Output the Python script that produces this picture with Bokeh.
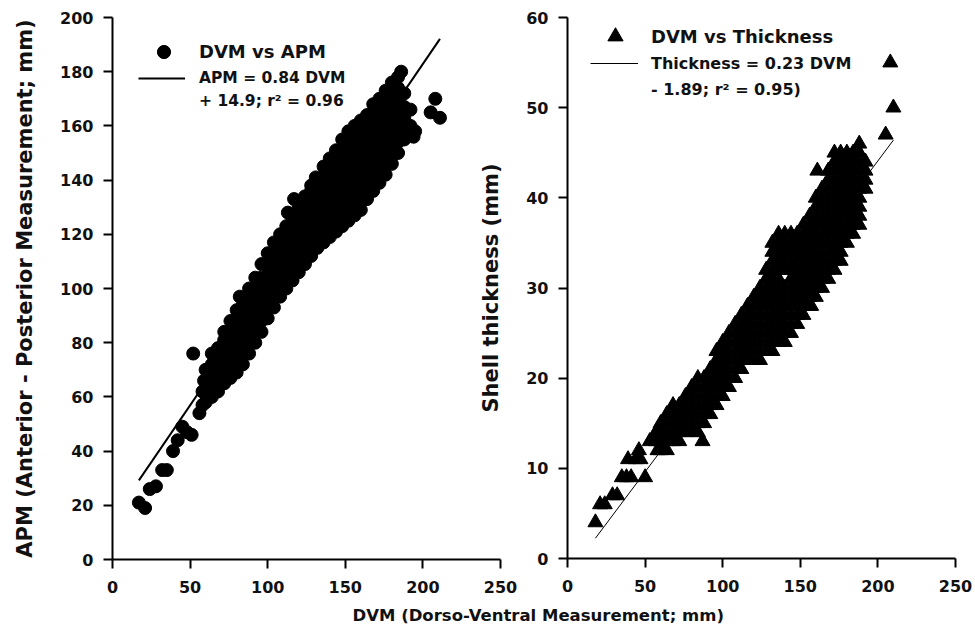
from bokeh.plotting import figure
from bokeh.models import Range1d, FixedTicker, Legend, LegendItem, Title
from bokeh.layouts import row
from bokeh.embed import file_html
from bokeh.resources import INLINE

FONT = "DejaVu Sans"

# ---------------- data: left panel (DVM vs APM) ----------------
apm_dvm = [
    17, 21, 24, 28, 32, 35, 39, 42, 45, 48, 51, 52, 56, 58, 58, 59, 82, 113, 117, 131,
    186, 192, 192, 194, 195, 205, 208, 211,
    60, 60, 60, 60,
    64, 64, 64, 64, 64,
    68, 68, 68, 68, 68,
    72, 72, 72, 72, 72, 72,
    76, 76, 76, 76, 76, 76,
    80, 80, 80, 80, 80, 80, 80,
    84, 84, 84, 84, 84, 84, 84,
    88, 88, 88, 88, 88, 88, 88,
    92, 92, 92, 92, 92, 92, 92,
    96, 96, 96, 96, 96, 96, 96,
    100, 100, 100, 100, 100, 100, 100,
    104, 104, 104, 104, 104, 104, 104,
    108, 108, 108, 108, 108, 108, 108,
    112, 112, 112, 112, 112, 112, 112,
    116, 116, 116, 116, 116, 116, 116,
    120, 120, 120, 120, 120, 120, 120,
    124, 124, 124, 124, 124, 124, 124,
    128, 128, 128, 128, 128, 128, 128, 128,
    132, 132, 132, 132, 132, 132, 132,
    136, 136, 136, 136, 136, 136, 136, 136,
    140, 140, 140, 140, 140, 140, 140, 140,
    144, 144, 144, 144, 144, 144, 144, 144, 144,
    148, 148, 148, 148, 148, 148, 148, 148, 148,
    152, 152, 152, 152, 152, 152, 152, 152, 152,
    156, 156, 156, 156, 156, 156, 156, 156, 156,
    160, 160, 160, 160, 160, 160, 160, 160, 160,
    164, 164, 164, 164, 164, 164, 164, 164, 164,
    168, 168, 168, 168, 168, 168, 168, 168, 168,
    172, 172, 172, 172, 172, 172, 172, 172, 172,
    176, 176, 176, 176, 176, 176, 176, 176, 176,
    180, 180, 180, 180, 180, 180, 180, 180, 180,
    184, 184, 184, 184, 184, 184, 184, 184,
    188, 188, 188, 188, 188,
]
apm_val = [
    21, 19, 26, 27, 33, 33, 40, 44, 49, 47, 46, 76, 54, 57, 62, 66, 97, 128, 133, 141,
    180, 160, 166, 156, 158, 165, 170, 163,
    58, 62, 66, 70,
    60, 64, 68, 72, 76,
    62, 66, 70, 74, 78,
    65, 69, 73, 77, 81, 84,
    67, 71, 75, 79, 83, 88,
    69, 73, 77, 81, 85, 89, 92,
    72, 76, 80, 84, 88, 92, 94,
    76, 80, 84, 88, 92, 96, 100,
    80, 84, 88, 92, 96, 100, 104,
    84, 88, 92, 96, 100, 104, 109,
    89, 93, 97, 101, 105, 109, 113,
    93, 97, 101, 105, 109, 113, 117,
    97, 101, 105, 109, 113, 117, 120,
    100, 104, 108, 112, 116, 120, 123,
    103, 107, 111, 115, 119, 123, 126,
    106, 110, 114, 118, 122, 126, 130,
    109, 113, 117, 121, 125, 129, 134,
    112, 116, 120, 124, 128, 132, 136, 138,
    115, 119, 123, 127, 131, 135, 139,
    117, 121, 125, 129, 133, 137, 141, 145,
    119, 123, 127, 131, 135, 139, 143, 148,
    121, 125, 129, 133, 137, 141, 145, 149, 151,
    123, 127, 131, 135, 139, 143, 147, 151, 155,
    125, 129, 133, 137, 141, 145, 149, 153, 158,
    127, 131, 135, 139, 143, 147, 151, 155, 160,
    129, 134, 138, 142, 146, 150, 154, 158, 162,
    133, 137, 141, 145, 149, 153, 157, 161, 164,
    136, 140, 144, 148, 152, 156, 160, 164, 168,
    139, 143, 147, 151, 155, 159, 163, 167, 170,
    142, 146, 150, 154, 158, 162, 166, 170, 173,
    146, 150, 154, 158, 162, 166, 170, 174, 176,
    150, 154, 158, 162, 166, 170, 174, 178,
    155, 159, 163, 167, 172,
]
apm_fit_x = [17, 211]
apm_fit_y = [29.2, 192.1]   # APM = 0.84 DVM + 14.9

# ---------------- data: right panel (DVM vs Thickness) ----------------
thk_dvm = [
    18, 21, 24, 29, 32, 35, 38, 41, 39, 44, 46, 47, 50, 53, 58, 87, 157, 161, 205, 208, 210,
    57, 57,
    60, 60, 60, 60,
    64, 64, 64, 64, 64,
    68, 68, 68, 68, 68,
    72, 72, 72, 72, 72,
    76, 76, 76, 76, 76,
    80, 80, 80, 80, 80, 80,
    84, 84, 84, 84, 84, 84, 84,
    88, 88, 88, 88, 88, 88,
    92, 92, 92, 92, 92, 92,
    96, 96, 96, 96, 96, 96, 96,
    100, 100, 100, 100, 100, 100, 100,
    104, 104, 104, 104, 104, 104, 104,
    108, 108, 108, 108, 108, 108, 108,
    112, 112, 112, 112, 112, 112, 112,
    116, 116, 116, 116, 116, 116, 116,
    120, 120, 120, 120, 120, 120, 120, 120,
    124, 124, 124, 124, 124, 124, 124, 124, 124,
    128, 128, 128, 128, 128, 128, 128, 128, 128, 128,
    132, 132, 132, 132, 132, 132, 132, 132, 132, 132, 132, 132, 132,
    136, 136, 136, 136, 136, 136, 136, 136, 136, 136, 136, 136, 136,
    140, 140, 140, 140, 140, 140, 140, 140, 140, 140, 140, 140,
    144, 144, 144, 144, 144, 144, 144, 144, 144, 144, 144, 144,
    148, 148, 148, 148, 148, 148, 148, 148, 148, 148, 148,
    152, 152, 152, 152, 152, 152, 152, 152, 152, 152, 152,
    156, 156, 156, 156, 156, 156, 156, 156, 156, 156, 156,
    160, 160, 160, 160, 160, 160, 160, 160, 160, 160, 160, 160,
    164, 164, 164, 164, 164, 164, 164, 164, 164, 164, 164, 164,
    168, 168, 168, 168, 168, 168, 168, 168, 168, 168, 168, 168, 168,
    172, 172, 172, 172, 172, 172, 172, 172, 172, 172, 172, 172, 172, 172,
    176, 176, 176, 176, 176, 176, 176, 176, 176, 176, 176, 176, 176,
    180, 180, 180, 180, 180, 180, 180, 180, 180, 180, 180,
    184, 184, 184, 184, 184, 184, 184, 184, 184, 184,
    188, 188, 188, 188, 188, 188, 188, 188, 188, 188,
    192, 192, 192, 192,
]
thk_val = [
    4, 6, 6, 7, 7, 9, 9, 9, 11, 11, 12, 11, 9, 13, 12, 13, 28, 43, 47, 55, 50,
    13, 14,
    12, 13, 14, 15,
    12, 13, 14, 15, 16,
    13, 14, 15, 16, 17,
    13, 14, 15, 16, 17,
    14, 15, 16, 17, 18,
    14, 15, 16, 17, 18, 19,
    14, 15, 16, 17, 18, 19, 20,
    15, 16, 17, 18, 19, 20,
    16, 17, 18, 19, 20, 21,
    17, 18, 19, 20, 21, 22, 23,
    18, 19, 20, 21, 22, 23, 24,
    19, 20, 21, 22, 23, 24, 25,
    20, 21, 22, 23, 24, 25, 26,
    21, 22, 23, 24, 25, 26, 27,
    22, 23, 24, 25, 26, 27, 28,
    22, 23, 24, 25, 26, 27, 28, 29,
    22, 23, 24, 25, 26, 27, 28, 29, 30,
    23, 24, 25, 26, 27, 28, 29, 30, 31, 32,
    23, 24, 25, 26, 27, 28, 29, 30, 31, 32, 33, 34, 35,
    24, 25, 26, 27, 28, 29, 30, 31, 32, 33, 34, 35, 36,
    24, 25, 26, 27, 28, 29, 30, 32, 33, 34, 35, 36,
    25, 26, 27, 28, 29, 30, 31, 32, 33, 34, 35, 36,
    26, 27, 28, 29, 30, 31, 32, 33, 34, 35, 36,
    27, 28, 29, 30, 31, 32, 33, 34, 35, 36, 37,
    28, 29, 30, 31, 32, 33, 34, 35, 36, 37, 38,
    29, 30, 31, 32, 33, 34, 35, 36, 37, 38, 39, 40,
    30, 31, 32, 33, 34, 35, 36, 37, 38, 39, 40, 41,
    31, 32, 33, 34, 35, 36, 37, 38, 39, 40, 41, 42, 43,
    32, 33, 34, 35, 36, 37, 38, 39, 40, 41, 42, 43, 44, 45,
    33, 34, 35, 36, 37, 38, 39, 40, 41, 42, 43, 44, 45,
    35, 36, 37, 38, 39, 40, 41, 42, 43, 44, 45,
    36, 37, 38, 39, 40, 41, 42, 43, 44, 45,
    37, 38, 39, 40, 41, 42, 43, 44, 45, 46,
    41, 42, 43, 44,
]
thk_fit_x = [18, 210]
thk_fit_y = [2.25, 46.4]    # Thickness = 0.23 DVM - 1.89

x_ticks = [0, 50, 100, 150, 200, 250]
apm_ticks = [0, 20, 40, 60, 80, 100, 120, 140, 160, 180, 200]
thk_ticks = [0, 10, 20, 30, 40, 50, 60]

x_label = "DVM (Dorso-Ventral Measurement; mm)"
apm_label = "APM (Anterior - Posterior Measurement; mm)"
thk_label = "Shell thickness (mm)"


def style(p, yticks, ylabel):
    p.outline_line_color = None
    p.xgrid.visible = False
    p.ygrid.visible = False
    p.xaxis.ticker = FixedTicker(ticks=x_ticks)
    p.yaxis.ticker = FixedTicker(ticks=yticks)
    for ax in p.axis:
        ax.axis_line_width = 2
        ax.axis_line_color = "black"
        ax.major_tick_line_width = 2
        ax.major_tick_line_color = "black"
        ax.major_tick_out = 9
        ax.major_tick_in = 0
        ax.minor_tick_line_color = None
        ax.major_label_text_font = FONT
        ax.major_label_text_font_style = "bold"
        ax.major_label_text_font_size = "16px"
        ax.major_label_text_color = "#111111"
    p.xaxis.major_label_standoff = 12
    p.yaxis.major_label_standoff = 10
    p.yaxis.axis_label = ylabel
    p.yaxis.axis_label_text_font = FONT
    p.yaxis.axis_label_text_font_style = "bold"
    p.yaxis.axis_label_text_font_size = "21px"
    p.yaxis.axis_label_text_color = "#111111"
    p.yaxis.axis_label_standoff = 20


def make_legend(items, loc, gw, gh, standoff, spacing, size):
    return Legend(items=items, location=loc, glyph_width=gw, glyph_height=gh,
                  label_height=gh, label_width=10, label_standoff=standoff,
                  spacing=spacing, padding=0, margin=0,
                  border_line_color=None, background_fill_alpha=0,
                  label_text_font=FONT, label_text_font_style="bold",
                  label_text_font_size=size, label_text_color="#111111")


# ---------------- left figure ----------------
p1 = figure(frame_width=388, frame_height=542,
            min_border_left=112, min_border_right=474,
            min_border_top=16, min_border_bottom=75,
            x_range=Range1d(0, 250), y_range=Range1d(0, 200),
            output_backend="svg", toolbar_location=None)
style(p1, apm_ticks, apm_label)

fit1 = p1.line(apm_fit_x, apm_fit_y, line_color="black", line_width=2)
sc1 = p1.scatter(apm_dvm, apm_val, marker="circle", size=13,
                 fill_color="black", line_color="black")
blank1 = p1.line([], [], line_alpha=0)

p1.add_layout(make_legend([LegendItem(label="DVM vs APM", renderers=[sc1])],
                          (35, 491), 33, 33, 19, 0, "18px"))
p1.add_layout(make_legend([LegendItem(label="APM = 0.84 DVM", renderers=[fit1]),
                           LegendItem(label="+ 14.9; r² = 0.96", renderers=[blank1])],
                          (26, 448), 47, 20, 14, 3, "15.5px"))

p1.add_layout(Title(text=x_label, align="left", offset=240, standoff=16,
                    text_font=FONT, text_font_style="bold",
                    text_font_size="16.5px", text_color="#111111"), "below")

# ---------------- right figure ----------------
p2 = figure(frame_width=388, frame_height=541,
            min_border_left=97, min_border_right=19,
            min_border_top=17, min_border_bottom=75,
            x_range=Range1d(0, 250), y_range=Range1d(0, 60),
            output_backend="svg", toolbar_location=None)
style(p2, thk_ticks, thk_label)
p2.background_fill_color = None
p2.border_fill_color = None
p2.margin = (0, 0, 0, -504)

fit2 = p2.line(thk_fit_x, thk_fit_y, line_color="black", line_width=1)
sc2 = p2.scatter(thk_dvm, thk_val, marker="triangle", size=15,
                 fill_color="black", line_color="black")
blank2 = p2.line([], [], line_alpha=0)

p2.add_layout(make_legend([LegendItem(label="DVM vs Thickness", renderers=[sc2])],
                          (29, 503), 38, 38, 17, 0, "18px"))
p2.add_layout(make_legend([LegendItem(label="Thickness = 0.23 DVM", renderers=[fit2]),
                           LegendItem(label="- 1.89; r² = 0.95)", renderers=[blank2])],
                          (23, 459), 48, 20, 13, 6, "16px"))

layout = row(p1, p2)
open("out.html", "w").write(file_html(layout, INLINE))
